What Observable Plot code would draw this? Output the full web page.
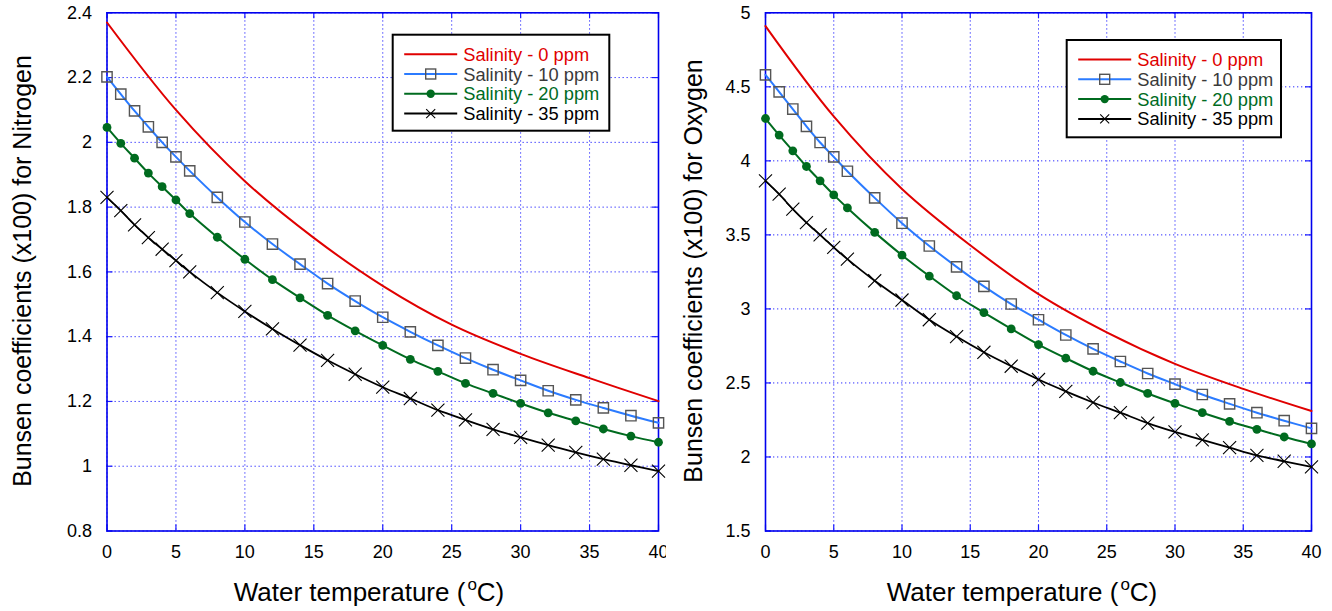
<!DOCTYPE html>
<html>
<head>
<meta charset="utf-8">
<script src="https://cdn.jsdelivr.net/npm/d3@7"></script>
<script src="https://cdn.jsdelivr.net/npm/@observablehq/plot@0.6"></script>
<style>
  html, body { margin: 0; padding: 0; background: #fff; }
  #wrap { display: flex; width: 1332px; height: 611px; }
  svg { display: block; }
</style>
</head>
<body>
<div id="wrap"></div>
<script>
// ---------- data ----------
const temps = [0,1,2,3,4,5,6,8,10,12,14,16,18,20,22,24,26,28,30,32,34,36,38,40];
const tempsRed = [0,5,10,15,20,25,30,35,40];

// Nitrogen (x100)
const n2_s0  = [2.370, 2.100, 1.880, 1.705, 1.557, 1.437, 1.347, 1.272, 1.201];
const n2_s10 = [2.202, 2.149, 2.097, 2.048, 2.000, 1.955, 1.912, 1.830, 1.754, 1.686, 1.624, 1.564, 1.510, 1.460, 1.415, 1.373, 1.334, 1.298, 1.265, 1.233, 1.205, 1.180, 1.156, 1.134];
const n2_s20 = [2.046, 1.997, 1.951, 1.905, 1.863, 1.822, 1.780, 1.707, 1.639, 1.576, 1.520, 1.466, 1.418, 1.373, 1.330, 1.293, 1.256, 1.225, 1.194, 1.165, 1.140, 1.115, 1.093, 1.074];
const n2_s35 = [1.830, 1.789, 1.745, 1.706, 1.670, 1.635, 1.600, 1.536, 1.478, 1.424, 1.374, 1.327, 1.284, 1.244, 1.209, 1.173, 1.143, 1.114, 1.089, 1.065, 1.043, 1.022, 1.003, 0.985];

// Oxygen (x100)
const o2_s0  = [4.910, 4.300, 3.810, 3.430, 3.100, 2.842, 2.629, 2.460, 2.310];
const o2_s10 = [4.581, 4.466, 4.350, 4.233, 4.124, 4.027, 3.930, 3.750, 3.579, 3.425, 3.284, 3.152, 3.033, 2.927, 2.824, 2.730, 2.645, 2.564, 2.492, 2.422, 2.359, 2.299, 2.245, 2.193];
const o2_s20 = [4.286, 4.174, 4.068, 3.962, 3.865, 3.770, 3.682, 3.517, 3.363, 3.222, 3.089, 2.975, 2.865, 2.759, 2.667, 2.579, 2.503, 2.429, 2.362, 2.299, 2.240, 2.187, 2.135, 2.088];
const o2_s35 = [3.865, 3.775, 3.674, 3.583, 3.500, 3.416, 3.336, 3.190, 3.060, 2.927, 2.813, 2.707, 2.613, 2.523, 2.443, 2.368, 2.299, 2.229, 2.169, 2.115, 2.063, 2.011, 1.971, 1.933];

const xTicks = [0,5,10,15,20,25,30,35,40];
const n2Ticks = [0.8,1.0,1.2,1.4,1.6,1.8,2.0,2.2,2.4];
const o2Ticks = [1.5,2.0,2.5,3.0,3.5,4.0,4.5,5.0];

const seriesNames = ["Salinity - 0 ppm", "Salinity - 10 ppm", "Salinity - 20 ppm", "Salinity - 35 ppm"];
const xLabel = "Water temperature (";
const yLabels = ["Bunsen coefficients (x100) for Nitrogen", "Bunsen coefficients (x100) for Oxygen"];

// ---------- style ----------
const FONT = "'Liberation Sans', Arial, sans-serif";
const C_RED = "#e00000", C_BLUE = "#2b7bff", C_GREEN = "#006b1f", C_BLACK = "#000000";
const C_SQ = "#555555";
const GRID = "#1a1aff";

function makePanel(cfg) {
  const W = 666, H = 611;
  const plotW = W - cfg.ml - cfg.mr, plotH = H - cfg.mt - cfg.mb;
  const xd = [0, 40], yd = cfg.yDomain;
  const tlx = (xd[1] - xd[0]) * 6 / plotW;
  const tly = (yd[1] - yd[0]) * 6 / plotH;
  const mk = (arr) => temps.map((t, i) => ({t, v: arr[i]}));
  const redData = tempsRed.map((t, i) => ({t, v: cfg.s0[i]}));
  const d10 = mk(cfg.s10), d20 = mk(cfg.s20), d35 = mk(cfg.s35);

  const svg = Plot.plot({
    width: W, height: H,
    marginLeft: cfg.ml, marginRight: cfg.mr, marginTop: cfg.mt, marginBottom: cfg.mb,
    style: {fontFamily: FONT, fontSize: "18px", color: "#000", background: "#fff", overflow: "visible"},
    x: {domain: xd},
    y: {domain: yd},
    marks: [
      // grid
      Plot.ruleX(xTicks, {x: d => d, stroke: GRID, strokeWidth: 1, strokeDasharray: "1.3,2.7", strokeOpacity: 0.9}),
      Plot.ruleY(cfg.yTicks, {y: d => d, stroke: GRID, strokeWidth: 1, strokeDasharray: "1.3,2.7", strokeOpacity: 0.9}),
      // inward tick marks
      Plot.ruleY(cfg.yTicks, {y: d => d, x1: xd[0], x2: xd[0] + tlx, stroke: GRID, strokeWidth: 1.2}),
      Plot.ruleY(cfg.yTicks, {y: d => d, x1: xd[1] - tlx, x2: xd[1], stroke: GRID, strokeWidth: 1.2}),
      Plot.ruleX(xTicks, {x: d => d, y1: yd[0], y2: yd[0] + tly, stroke: GRID, strokeWidth: 1.2}),
      Plot.ruleX(xTicks, {x: d => d, y1: yd[1] - tly, y2: yd[1], stroke: GRID, strokeWidth: 1.2}),
      Plot.frame({stroke: "#0000ee", strokeWidth: 1.6}),
      // axes labels
      Plot.axisX({ticks: xTicks, tickSize: 0, tickPadding: 14, label: null, fontSize: 18}),
      Plot.axisY({ticks: cfg.yTicks, tickSize: 0, tickPadding: 15, label: null, fontSize: 18, tickFormat: d3.format("~g")}),
      // lines
      Plot.line(redData, {x: "t", y: "v", stroke: C_RED, strokeWidth: 2, curve: "catmull-rom"}),
      Plot.line(d10, {x: "t", y: "v", stroke: C_BLUE, strokeWidth: 2, curve: "catmull-rom"}),
      Plot.line(d20, {x: "t", y: "v", stroke: C_GREEN, strokeWidth: 2, curve: "catmull-rom"}),
      Plot.line(d35, {x: "t", y: "v", stroke: C_BLACK, strokeWidth: 1.8, curve: "catmull-rom"}),
      // markers
      Plot.dot(d10, {x: "t", y: "v", symbol: "square", r: 5.8, stroke: C_SQ, strokeWidth: 1.4, fill: "none"}),
      Plot.dot(d20, {x: "t", y: "v", symbol: "circle", r: 4.4, fill: C_GREEN, stroke: "none"}),
      Plot.dot(d35, {x: "t", y: "v", symbol: "times", r: 6, stroke: C_BLACK, strokeWidth: 1.1})
    ]
  });

  const s = d3.select(svg);
  // y title
  s.append("text")
    .attr("transform", `translate(${cfg.yTitleX},${271}) rotate(-90)`)
    .attr("text-anchor", "middle").attr("dominant-baseline", "central")
    .attr("font-family", FONT).attr("font-size", 25).attr("fill", "#000")
    .text(cfg.yLabel);
  // x title with superscript o
  const xt = s.append("text")
    .attr("x", cfg.xTitleX).attr("y", 601)
    .attr("text-anchor", "middle")
    .attr("font-family", FONT).attr("font-size", 26).attr("fill", "#000");
  xt.append("tspan").text(xLabel);
  xt.append("tspan").attr("dy", -11).attr("dx", 2).attr("font-size", 17).text("o");
  xt.append("tspan").attr("dy", 11).text("C)");

  // legend
  const L = cfg.legend;
  const g = s.append("g").attr("font-family", FONT).attr("font-size", 18.3).attr("text-anchor", "start");
  g.append("rect").attr("x", L.x).attr("y", L.y).attr("width", L.w).attr("height", L.h)
    .attr("fill", "#fff").attr("stroke", "#000").attr("stroke-width", 2);
  const rows = [
    {name: seriesNames[0], line: C_RED, text: C_RED, sym: null},
    {name: seriesNames[1], line: C_BLUE, text: "#3a3a3a", sym: "square"},
    {name: seriesNames[2], line: C_GREEN, text: C_GREEN, sym: "circle"},
    {name: seriesNames[3], line: C_BLACK, text: "#000", sym: "times"}
  ];
  rows.forEach((r, i) => {
    const yy = L.y + 19.5 + i * 19.8;
    const x1 = L.x + 11.5, x2 = L.x + 64.5, xc = (x1 + x2) / 2;
    g.append("line").attr("x1", x1).attr("x2", x2).attr("y1", yy).attr("y2", yy)
      .attr("stroke", r.line).attr("stroke-width", 2);
    if (r.sym === "square") {
      g.append("rect").attr("x", xc - 5).attr("y", yy - 5).attr("width", 10).attr("height", 10)
        .attr("fill", "none").attr("stroke", C_SQ).attr("stroke-width", 1.4);
    } else if (r.sym === "circle") {
      g.append("circle").attr("cx", xc).attr("cy", yy).attr("r", 4.2).attr("fill", C_GREEN);
    } else if (r.sym === "times") {
      g.append("path").attr("d", `M${xc-4.5},${yy-4.5}L${xc+4.5},${yy+4.5}M${xc-4.5},${yy+4.5}L${xc+4.5},${yy-4.5}`)
        .attr("stroke", "#000").attr("stroke-width", 1.1);
    }
    g.append("text").attr("x", L.x + 70.5).attr("y", yy).attr("dominant-baseline", "central")
      .attr("text-anchor", "start")
      .attr("fill", r.text).text(r.name);
  });
  return svg;
}

const wrap = document.getElementById("wrap");
wrap.appendChild(makePanel({
  ml: 106.5, mr: 8, mt: 12.3, mb: 80.5,
  yDomain: [0.8, 2.4], yTicks: n2Ticks,
  s0: n2_s0, s10: n2_s10, s20: n2_s20, s35: n2_s35,
  yLabel: yLabels[0], yTitleX: 22, xTitleX: 369,
  legend: {x: 392.7, y: 34.7, w: 216.6, h: 96}
}));
wrap.appendChild(makePanel({
  ml: 99, mr: 21, mt: 12.3, mb: 80.5,
  yDomain: [1.5, 5], yTicks: o2Ticks,
  s0: o2_s0, s10: o2_s10, s20: o2_s20, s35: o2_s35,
  yLabel: yLabels[1], yTitleX: 27, xTitleX: 356,
  legend: {x: 1066.7 - 666, y: 40, w: 214.3, h: 97.3}
}));
</script>
</body>
</html>
